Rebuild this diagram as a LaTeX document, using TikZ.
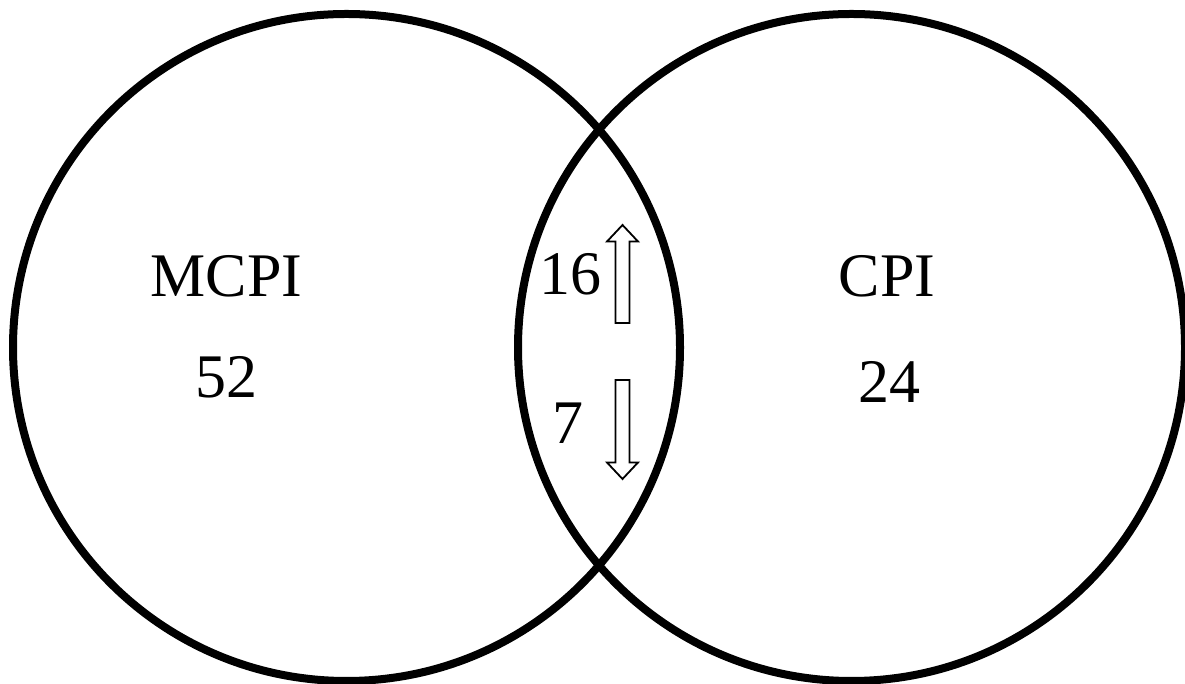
\documentclass[tikz,border=0pt]{standalone}
\usepackage{fontspec}
\setmainfont{Liberation Serif}
\begin{document}
\begin{tikzpicture}[x=1pt,y=1pt,
  ring/.style={draw=black,line width=8pt,circle,minimum size=667pt,inner sep=0pt},
  label/.style={anchor=base,inner sep=0pt,font=\fontsize{62}{62}\selectfont},
  hollowarrow/.style={draw=black,fill=white,line width=1.8pt,line join=miter}]
  \useasboundingbox (0,0) rectangle (1185,684);
  \clip (0,0) rectangle (1185,684);

  % the two sets
  \node[ring] (mcpi) at (346.5,336.5) {};
  \node[ring] (cpi) at (851.5,336.5) {};

  % set labels and counts
  \node[label] (mcpiname) at (226.5,387) {MCPI};
  \node[label] (mcpicount) at (226,286) {52};
  \node[label] (cpiname) at (887,387) {CPI};
  \node[label] (cpicount) at (889,281) {24};
  \node[label] (up) at (570,389) {16};
  \node[label] (down) at (568,240) {7};

  % hollow arrows beside the shared counts
  \draw[hollowarrow] (615.5,361) -- (615.5,442.5) -- (607,442.5) -- (622.5,459)
    -- (638,442.5) -- (629.5,442.5) -- (629.5,361) -- cycle;
  \draw[hollowarrow] (615.5,304) -- (615.5,221.5) -- (607,221.5) -- (622.5,205)
    -- (638,221.5) -- (629.5,221.5) -- (629.5,304) -- cycle;
\end{tikzpicture}
\end{document}
